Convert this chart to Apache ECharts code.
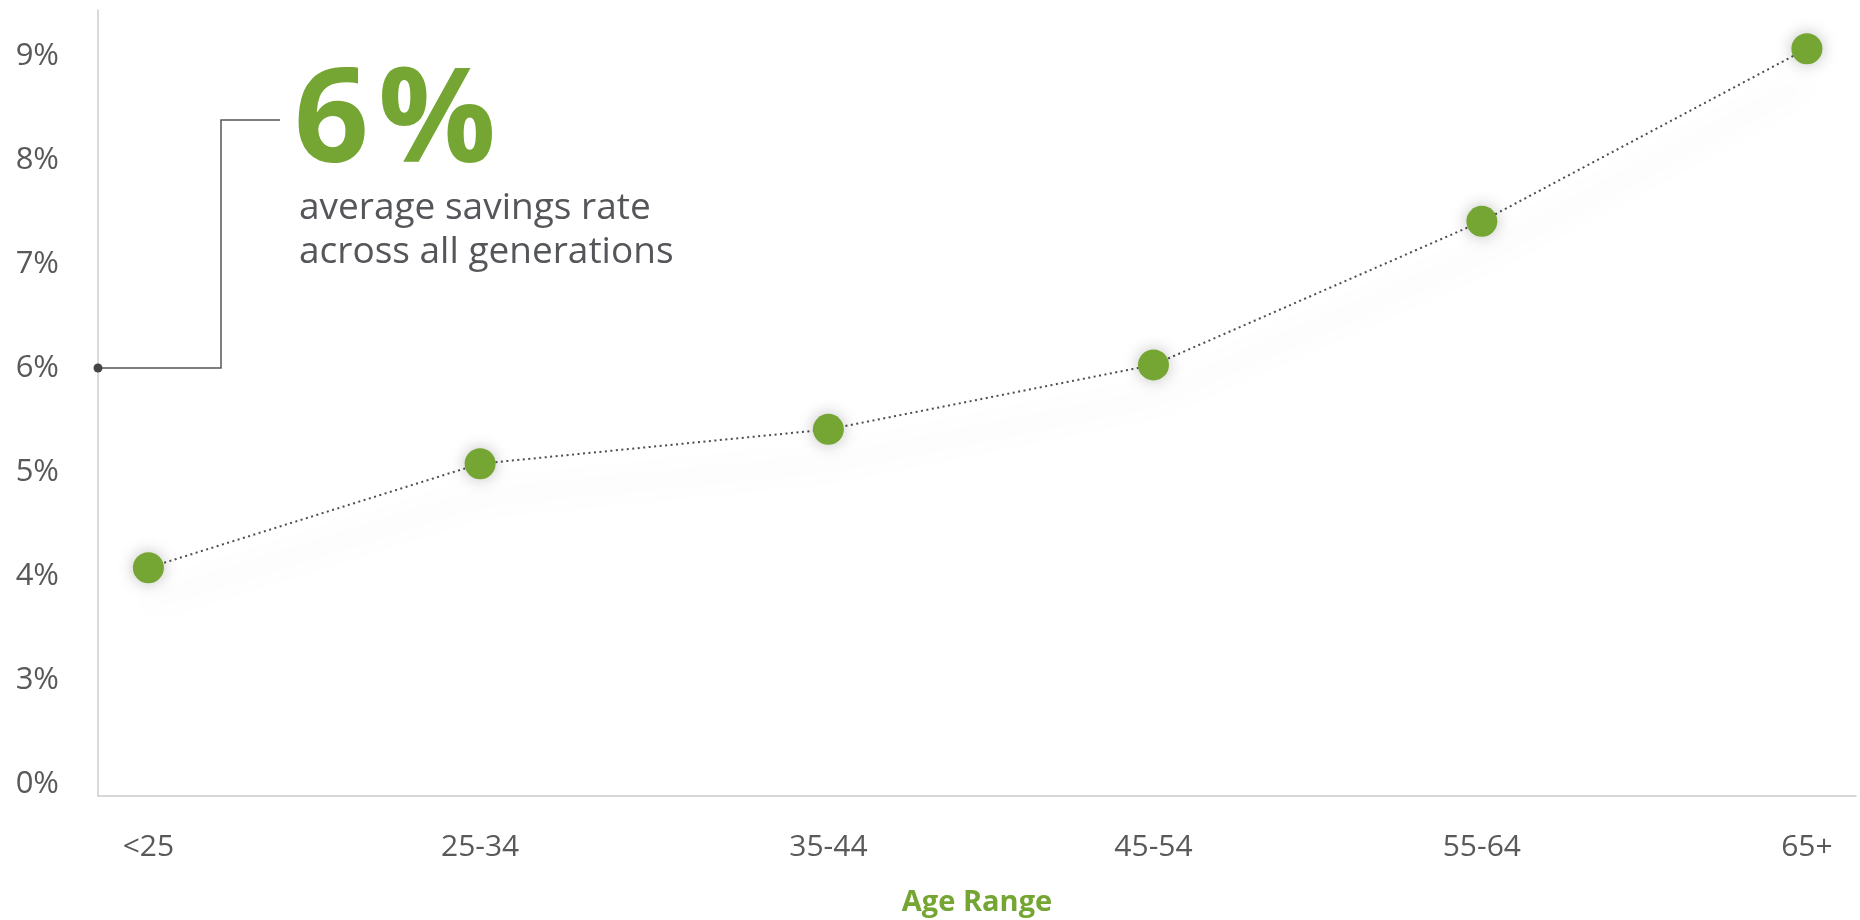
<!DOCTYPE html>
<html><head><meta charset="utf-8">
<script src="https://cdn.jsdelivr.net/npm/echarts@6/dist/echarts.min.js"></script>
<style>html,body{margin:0;padding:0;background:#fff}#c{width:1860px;height:920px}</style>
</head><body><div id="c"></div>
<script>
const categories = ['<25', '25-34', '35-44', '45-54', '55-64', '65+'];
const categoryPositions = [0, 1.0, 2.05, 3.03, 4.02, 5];
const savingsRate = [4.08, 5.08, 5.41, 6.03, 7.41, 9.07];
const yTickValues = [2, 3, 4, 5, 6, 7, 8, 9];
const yTickLabels = ['0%', '3%', '4%', '5%', '6%', '7%', '8%', '9%'];
const averageRate = 6;
const calloutNumber = '6';
const calloutUnit = '%';
const calloutLines = ['average savings rate', 'across all generations'];
const xAxisTitle = 'Age Range';

const GREEN = '#75a532';
const TEXT = '#58595b';
const FONT = '"Open Sans", "Noto Sans", sans-serif';
const X_MIN = -0.152, X_MAX = 5.148;

const chart = echarts.init(document.getElementById('c'), null, {renderer: 'canvas'});
const data = savingsRate.map((v, i) => [categoryPositions[i], v]);

function nearestCategory(v) {
  let best = 0;
  categoryPositions.forEach((p, i) => { if (Math.abs(p - v) < Math.abs(categoryPositions[best] - v)) best = i; });
  return categories[best];
}

chart.setOption({
  animation: false,
  backgroundColor: '#fff',
  textStyle: {fontFamily: FONT},
  grid: {left: 98, right: 4, top: 10, bottom: 124, outerBoundsMode: 'none', containLabel: false},
  xAxis: {
    type: 'value', min: X_MIN, max: X_MAX,
    axisLine: {show: true, onZero: false, lineStyle: {color: '#cccccc', width: 1.5}},
    axisTick: {show: false},
    splitLine: {show: false},
    axisLabel: {
      customValues: categoryPositions,
      formatter: v => nearestCategory(v),
      fontSize: 30, color: TEXT, margin: 36, fontFamily: FONT
    },
    name: xAxisTitle, nameLocation: 'middle', nameGap: 92,
    nameTextStyle: {color: GREEN, fontSize: 29, fontWeight: 'bold', fontFamily: FONT}
  },
  yAxis: {
    type: 'value', min: 1.885, max: 9.442,
    axisLine: {show: true, onZero: false, lineStyle: {color: '#cccccc', width: 1.5}},
    axisTick: {show: false},
    splitLine: {show: false},
    axisLabel: {
      customValues: yTickValues,
      formatter: v => yTickLabels[yTickValues.indexOf(Math.round(v))],
      fontSize: 31, color: TEXT, margin: 39, fontFamily: FONT
    }
  },
  series: [{
    type: 'line',
    data: data,
    symbol: 'circle',
    symbolSize: 31,
    smooth: false,
    itemStyle: {color: GREEN, shadowBlur: 16, shadowColor: 'rgba(0,0,0,0.25)'},
    lineStyle: {color: '#4d4d4f', width: 2, type: [2, 3.5],
      shadowColor: 'rgba(0,0,0,0.4)', shadowBlur: 26, shadowOffsetY: 34},
    z: 3
  }]
});

const p = chart.convertToPixel({xAxisIndex: 0, yAxisIndex: 0}, [X_MIN, averageRate]);
const elbowX = 221, topY = 120, endX = 280;
chart.setOption({
  graphic: [
    {type: 'polyline', z: 10, shape: {points: [[p[0], p[1]], [elbowX, p[1]], [elbowX, topY], [endX, topY]]},
      style: {stroke: '#555557', lineWidth: 1.5, fill: null}},
    {type: 'circle', z: 11, shape: {cx: p[0], cy: p[1], r: 4.5}, style: {fill: '#444446'}},
    {type: 'text', z: 10, style: {x: 294, y: 125, text: calloutNumber, fill: GREEN,
      font: 'bold 131px ' + FONT, textVerticalAlign: 'middle', textAlign: 'left'}},
    {type: 'text', z: 10, style: {x: 378, y: 125, text: calloutUnit, fill: GREEN,
      font: 'bold 131px ' + FONT, textVerticalAlign: 'middle', textAlign: 'left'}},
    {type: 'text', z: 10, style: {x: 299, y: 208, text: calloutLines[0], fill: '#54565a',
      font: '37px ' + FONT, textVerticalAlign: 'middle', textAlign: 'left'}},
    {type: 'text', z: 10, style: {x: 299, y: 252, text: calloutLines[1], fill: '#54565a',
      font: '37px ' + FONT, textVerticalAlign: 'middle', textAlign: 'left'}}
  ]
});
</script></body></html>
